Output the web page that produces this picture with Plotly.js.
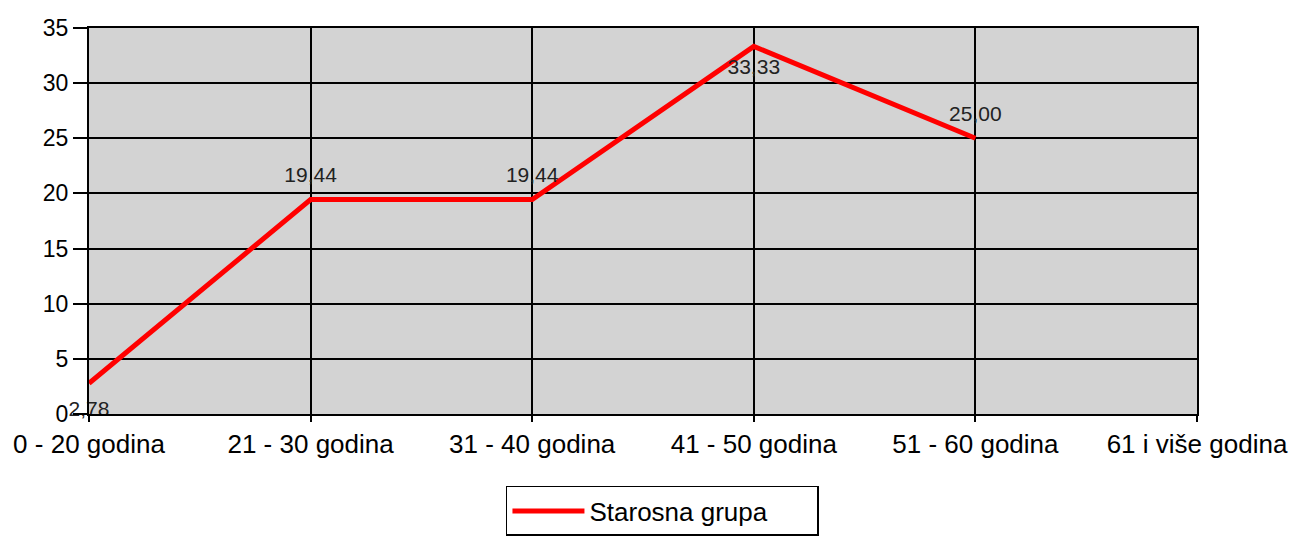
<!DOCTYPE html>
<html>
<head>
<meta charset="utf-8">
<script src="https://cdn.plot.ly/plotly-3.0.1.min.js"></script>
<style>html,body{margin:0;padding:0;background:#fff;}#chart{width:1294px;height:543px;}</style>
</head>
<body>
<div id="chart"></div>
<script>
var categories = ["0 - 20 godina", "21 - 30 godina", "31 - 40 godina", "41 - 50 godina", "51 - 60 godina", "61 i više godina"];
var values = [2.78, 19.44, 19.44, 33.33, 25.00, null];
var labelText = ["2,78", "19,44", "19,44", "33,33", "25,00", ""];
var labelPos = ["bottom center", "top center", "top center", "bottom center", "top center", "top center"];
var seriesName = "Starosna grupa";
var yTicks = [0, 5, 10, 15, 20, 25, 30, 35];

var trace = {
  x: categories,
  y: values,
  type: "scatter",
  mode: "lines+markers+text",
  name: seriesName,
  line: {color: "#ff0000", width: 5},
  marker: {size: [26, 18, 18, 18, 18, 18], color: "rgba(0,0,0,0)", opacity: 0,
           line: {width: 0, color: "rgba(0,0,0,0)"}},
  text: labelText,
  textposition: labelPos,
  textfont: {family: "Liberation Sans, Arial, sans-serif", size: 21, color: "#222"},
  hoverinfo: "skip",
  cliponaxis: false
};

var layout = {
  width: 1294, height: 543,
  margin: {l: 89, r: 97, t: 28, b: 129},
  paper_bgcolor: "#ffffff",
  plot_bgcolor: "#d3d3d3",
  font: {family: "Liberation Sans, Arial, sans-serif", size: 22, color: "#000"},
  showlegend: true,
  legend: {
    orientation: "h",
    xref: "container", yref: "container",
    x: 0.391, xanchor: "left",
    y: 0.105, yanchor: "top",
    bordercolor: "#000", borderwidth: 1.5,
    bgcolor: "#fff",
    itemwidth: 72,
    entrywidth: 223, entrywidthmode: "pixels",
    font: {size: 26, color: "#000"}
  },
  xaxis: {
    type: "category",
    range: [0, 5],
    showgrid: true, gridcolor: "#000", gridwidth: 2,
    showline: true, linecolor: "#000", linewidth: 2, mirror: true,
    ticks: "outside", ticklen: 6, tickcolor: "#000", tickwidth: 2,
    tickfont: {size: 26, color: "#000"},
    zeroline: false, fixedrange: true, automargin: false
  },
  yaxis: {
    range: [0, 35],
    tickvals: yTicks,
    ticktext: yTicks.map(String),
    showgrid: true, gridcolor: "#000", gridwidth: 2,
    showline: true, linecolor: "#000", linewidth: 2, mirror: true,
    ticks: "outside", ticklen: 14, tickcolor: "#000", tickwidth: 2,
    tickfont: {size: 23, color: "#000"},
    zeroline: false, fixedrange: true, automargin: false
  }
};

Plotly.newPlot("chart", [trace], layout, {displayModeBar: false, staticPlot: true});
</script>
</body>
</html>
